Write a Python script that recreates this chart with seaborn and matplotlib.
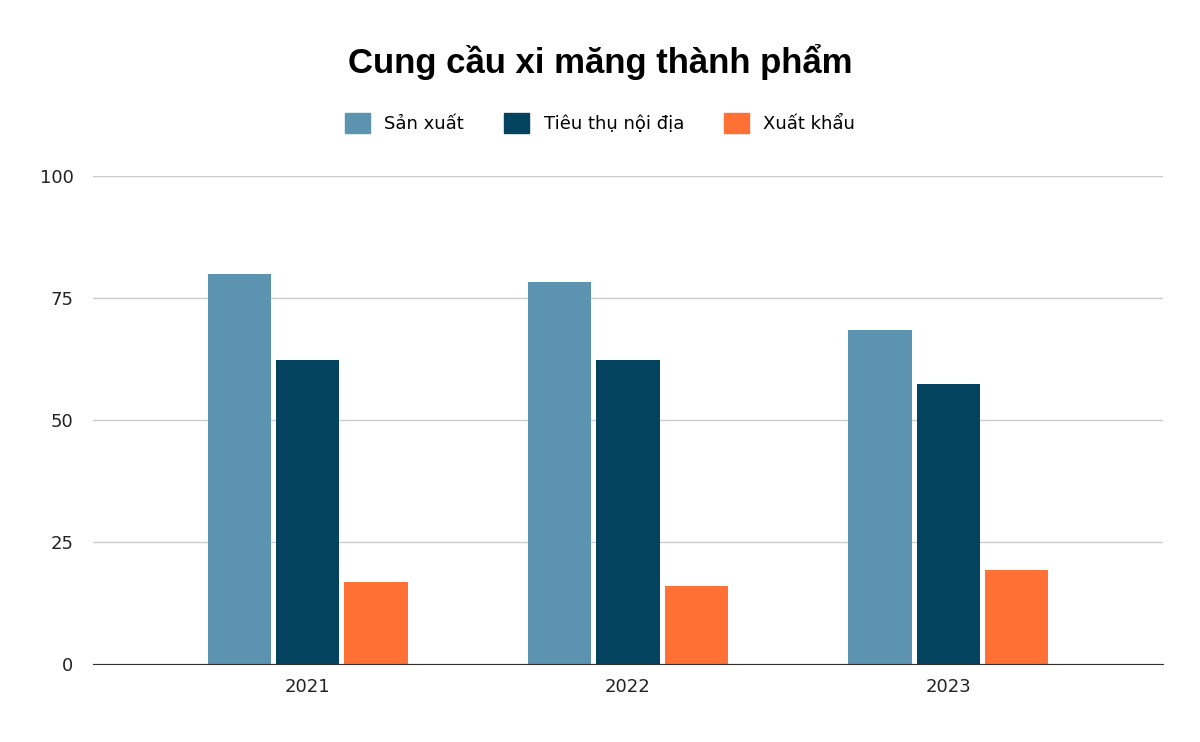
import matplotlib
matplotlib.use("Agg")
import matplotlib.pyplot as plt
import seaborn as sns
import pandas as pd

years = ["2021", "2022", "2023"]
san_xuat = [80.0, 78.3, 68.4]
tieu_thu = [62.3, 62.3, 57.4]
xuat_khau = [16.8, 16.0, 19.3]
series = ["Sản xuất", "Tiêu thụ nội địa", "Xuất khẩu"]
colors = ["#5b93b0", "#03435f", "#ff7034"]

rows = []
for s, vals in zip(series, [san_xuat, tieu_thu, xuat_khau]):
    for y, v in zip(years, vals):
        rows.append({"Năm": y, "Loại": s, "Giá trị": v})
df = pd.DataFrame(rows)

fig = plt.figure(figsize=(12, 7.42), dpi=100)
ax = fig.add_axes([93/1200, 1-664/742, (1163-93)/1200, (664-176)/742])
sns.barplot(data=df, x="Năm", y="Giá trị", hue="Loại", hue_order=series,
            palette=colors, width=0.64, gap=0.07, ax=ax, legend=False,
            saturation=1)
ax.set_xlim(-0.67, 2.67)
ax.set_ylim(0, 100)
ax.set_yticks([0, 25, 50, 75, 100])
ax.grid(axis="y", color="#cccccc", linewidth=1)
ax.set_axisbelow(True)
for sp in ["top", "right", "left"]:
    ax.spines[sp].set_visible(False)
ax.spines["bottom"].set_color("#333333")
ax.tick_params(axis="both", length=0, labelsize=13, colors="#222222")
ax.tick_params(axis="y", pad=14)
ax.tick_params(axis="x", pad=10)
ax.set_xlabel("")
ax.set_ylabel("")

fig.text(0.5, 1-62/742, "Cung cầu xi măng thành phẩm", ha="center", va="center",
         fontsize=25, fontweight="bold", family="Liberation Sans")
from matplotlib.patches import Patch
handles = [Patch(color=c, label=s) for c, s in zip(colors, series)]
fig.legend(handles=handles, loc="center", bbox_to_anchor=(0.5, 1-123/742), ncol=3,
           frameon=False, fontsize=13, handlelength=1.4, handleheight=1.4,
           columnspacing=2.2, handletextpad=0.8)
fig.savefig("out.png", dpi=100, facecolor="white")
